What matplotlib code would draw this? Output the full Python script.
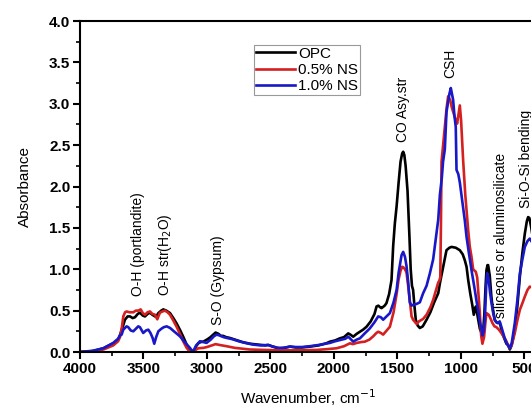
import matplotlib
matplotlib.use("Agg")
import matplotlib.pyplot as plt
from matplotlib.ticker import MultipleLocator

# ---------------- data ----------------
wn_opc = [4000, 3900, 3816, 3738, 3700, 3685, 3660, 3646, 3625, 3606, 3585, 3567, 3545, 3528, 3505, 3488,
          3468, 3449, 3430, 3409, 3395, 3383, 3360, 3344, 3320, 3291, 3265, 3239, 3210, 3187, 3160, 3139,
          3115, 3102, 3085, 3068, 3050, 3029, 3000, 2976, 2950, 2932, 2910, 2890, 2872, 2850, 2820, 2780,
          2720, 2661, 2600, 2540, 2517, 2490, 2450, 2425, 2390, 2346, 2300, 2250, 2189, 2120, 2060, 2031,
          1990, 1953, 1920, 1887, 1870, 1848, 1820, 1795, 1770, 1743, 1710, 1680, 1664, 1650, 1635, 1625,
          1600, 1586, 1565, 1546, 1533, 1520, 1506, 1490, 1475, 1462, 1454, 1445, 1435, 1420, 1405, 1395,
          1385, 1376, 1365, 1355, 1340, 1323, 1300, 1270, 1240, 1210, 1178, 1165, 1140, 1113, 1090, 1073,
          1040, 1008, 985, 969, 955, 942, 925, 910, 898, 890, 882, 875, 863, 850, 837, 827,
          815, 805, 798, 790, 785, 772, 760, 751, 733, 720, 707, 694, 680, 667, 641, 627,
          614, 600, 590, 575, 555, 535, 515, 496, 480, 470, 460, 445, 430, 415, 400]
ab_opc = [0.00, 0.01, 0.045, 0.105, 0.15, 0.205, 0.32, 0.39, 0.43, 0.43, 0.41, 0.42, 0.46, 0.475, 0.44, 0.43,
          0.46, 0.475, 0.45, 0.43, 0.44, 0.47, 0.50, 0.515, 0.50, 0.47, 0.41, 0.345, 0.26, 0.185, 0.09, 0.03,
          0.01, 0.015, 0.07, 0.105, 0.12, 0.125, 0.15, 0.175, 0.21, 0.235, 0.22, 0.195, 0.195, 0.18, 0.17, 0.15,
          0.12, 0.10, 0.09, 0.08, 0.085, 0.07, 0.05, 0.045, 0.05, 0.065, 0.055, 0.055, 0.065, 0.08, 0.105, 0.125,
          0.14, 0.165, 0.18, 0.225, 0.21, 0.185, 0.22, 0.245, 0.27, 0.305, 0.37, 0.46, 0.55, 0.56, 0.54, 0.53,
          0.56, 0.59, 0.70, 0.87, 1.28, 1.55, 1.76, 2.05, 2.30, 2.40, 2.42, 2.38, 2.25, 1.95, 1.40, 1.00,
          0.80, 0.75, 0.55, 0.39, 0.32, 0.29, 0.31, 0.39, 0.48, 0.60, 0.71, 0.83, 1.02, 1.23, 1.26, 1.27,
          1.26, 1.23, 1.18, 1.11, 1.03, 0.87, 0.70, 0.57, 0.45, 0.50, 0.55, 0.50, 0.39, 0.28, 0.23, 0.20,
          0.45, 0.80, 0.99, 1.05, 1.05, 0.92, 0.68, 0.55, 0.39, 0.36, 0.35, 0.36, 0.27, 0.20, 0.10, 0.085,
          0.03, 0.08, 0.15, 0.27, 0.55, 0.91, 1.20, 1.43, 1.58, 1.63, 1.62, 1.50, 1.35, 1.25, 1.20]

wn_ns05 = [4000, 3900, 3816, 3738, 3700, 3685, 3670, 3659, 3645, 3633, 3610, 3580, 3560, 3540, 3522, 3505,
           3488, 3468, 3449, 3430, 3409, 3400, 3391, 3380, 3370, 3350, 3331, 3310, 3291, 3265, 3239, 3210,
           3187, 3160, 3139, 3102, 3085, 3068, 3029, 3000, 2960, 2932, 2900, 2846, 2780, 2720, 2661, 2550,
           2400, 2300, 2136, 2050, 1979, 1920, 1874, 1850, 1820, 1785, 1756, 1720, 1690, 1665, 1651, 1630,
           1612, 1590, 1559, 1530, 1506, 1490, 1475, 1462, 1450, 1440, 1428, 1415, 1400, 1388, 1376, 1360,
           1349, 1330, 1297, 1270, 1240, 1218, 1195, 1178, 1170, 1162, 1157, 1152, 1140, 1126, 1112, 1100,
           1085, 1070, 1050, 1040, 1029, 1018, 1008, 998, 990, 982, 965, 942, 930, 916, 903, 890,
           882, 871, 860, 850, 840, 830, 817, 805, 798, 790, 780, 765, 751, 735, 720, 700,
           681, 660, 641, 625, 614, 600, 575, 555, 535, 515, 496, 475, 457, 440, 420, 400]
ab_ns05 = [0.00, 0.01, 0.03, 0.08, 0.13, 0.18, 0.30, 0.43, 0.48, 0.49, 0.48, 0.48, 0.50, 0.50, 0.515, 0.47,
           0.45, 0.48, 0.49, 0.46, 0.45, 0.42, 0.395, 0.44, 0.475, 0.49, 0.50, 0.48, 0.45, 0.38, 0.305, 0.21,
           0.13, 0.05, 0.01, 0.005, 0.03, 0.045, 0.05, 0.06, 0.08, 0.095, 0.085, 0.07, 0.05, 0.04, 0.03, 0.025,
           0.02, 0.02, 0.025, 0.035, 0.045, 0.07, 0.105, 0.095, 0.11, 0.12, 0.125, 0.15, 0.19, 0.23, 0.245, 0.23,
           0.21, 0.25, 0.305, 0.48, 0.70, 0.88, 0.98, 1.03, 1.02, 1.00, 0.96, 0.80, 0.60, 0.43, 0.39, 0.36,
           0.34, 0.37, 0.40, 0.45, 0.54, 0.63, 0.75, 0.84, 0.86, 0.90, 1.50, 2.30, 2.50, 2.72, 2.95, 3.09,
           3.05, 2.95, 2.85, 2.80, 2.76, 2.88, 2.98, 2.80, 2.55, 2.32, 1.90, 1.47, 1.28, 1.15, 1.00, 0.98,
           0.97, 0.90, 0.68, 0.47, 0.20, 0.10, 0.18, 0.38, 0.47, 0.46, 0.45, 0.40, 0.35, 0.31, 0.30, 0.27,
           0.23, 0.18, 0.13, 0.07, 0.045, 0.08, 0.23, 0.38, 0.51, 0.59, 0.67, 0.75, 0.79, 0.78, 0.74, 0.72]

wn_ns10 = [4000, 3900, 3816, 3738, 3700, 3685, 3672, 3659, 3646, 3633, 3620, 3600, 3580, 3560, 3541, 3528,
           3510, 3502, 3480, 3462, 3445, 3428, 3415, 3400, 3383, 3360, 3340, 3317, 3290, 3260, 3213, 3170,
           3134, 3110, 3085, 3055, 3030, 3003, 2970, 2945, 2924, 2900, 2870, 2845, 2800, 2750, 2700, 2638,
           2580, 2517, 2490, 2440, 2400, 2346, 2300, 2250, 2189, 2120, 2031, 1990, 1950, 1910, 1887, 1870,
           1848, 1820, 1795, 1760, 1717, 1680, 1651, 1630, 1612, 1585, 1559, 1530, 1506, 1490, 1467, 1454,
           1440, 1428, 1415, 1402, 1388, 1376, 1350, 1323, 1297, 1270, 1244, 1218, 1195, 1178, 1165, 1150,
           1140, 1126, 1113, 1100, 1090, 1079, 1070, 1061, 1050, 1040, 1034, 1020, 1008, 995, 982, 968,
           955, 935, 916, 903, 890, 877, 863, 850, 837, 830, 820, 811, 800, 793, 786, 780,
           770, 758, 745, 733, 720, 707, 694, 680, 667, 655, 641, 625, 614, 600, 590, 575,
           555, 535, 515, 496, 475, 457, 440, 420, 400]
ab_ns10 = [0.00, 0.015, 0.045, 0.11, 0.16, 0.20, 0.21, 0.27, 0.29, 0.31, 0.30, 0.26, 0.25, 0.28, 0.31, 0.30,
           0.25, 0.23, 0.26, 0.27, 0.23, 0.17, 0.10, 0.18, 0.25, 0.28, 0.30, 0.31, 0.29, 0.25, 0.19, 0.11,
           0.05, 0.00, 0.08, 0.13, 0.12, 0.11, 0.15, 0.19, 0.21, 0.20, 0.18, 0.17, 0.155, 0.13, 0.11, 0.09,
           0.08, 0.085, 0.07, 0.05, 0.05, 0.065, 0.06, 0.06, 0.07, 0.085, 0.11, 0.13, 0.145, 0.16, 0.185, 0.16,
           0.125, 0.15, 0.165, 0.22, 0.285, 0.36, 0.43, 0.42, 0.39, 0.43, 0.47, 0.60, 0.75, 0.96, 1.17, 1.21,
           1.15, 1.04, 0.85, 0.60, 0.56, 0.57, 0.58, 0.60, 0.71, 0.80, 0.95, 1.12, 1.40, 1.60, 1.90, 2.10,
           2.30, 2.45, 2.90, 3.02, 3.12, 3.19, 3.12, 3.05, 2.85, 2.72, 2.20, 2.15, 2.05, 1.90, 1.76, 1.58,
           1.39, 1.18, 0.99, 0.87, 0.75, 0.62, 0.50, 0.36, 0.27, 0.20, 0.25, 0.39, 0.80, 0.95, 0.92, 0.87,
           0.72, 0.59, 0.47, 0.39, 0.36, 0.35, 0.37, 0.30, 0.23, 0.17, 0.11, 0.07, 0.045, 0.10, 0.20, 0.35,
           0.62, 0.95, 1.12, 1.27, 1.34, 1.37, 1.33, 1.25, 1.20]

series_labels = ["OPC", "0.5% NS", "1.0% NS"]
series_colors = ["#000000", "#d42020", "#1818c8"]

band_labels = ["O-H (portlandite)", "O-H str(H$_2$O)", "S-O (Gypsum)", "CO Asy.str", "CSH",
               "siliceous or aluminosilicate", "Si-O-Si bending"]
band_x = [3541, 3331, 2911, 1454, 1087, 680, 490]
band_y = [0.68, 0.68, 0.33, 2.54, 3.31, 0.41, 1.74]

# ---------------- figure ----------------
plt.rcParams['font.family'] = ['Liberation Sans', 'DejaVu Sans']
fig = plt.figure(figsize=(5.31, 4.12), dpi=100)
ax = fig.add_axes([80 / 531, 60 / 412, 457 / 531, 331 / 412])

for wn, ab, lab, col in zip([wn_opc, wn_ns05, wn_ns10], [ab_opc, ab_ns05, ab_ns10],
                            series_labels, series_colors):
    ax.plot(wn, ab, color=col, lw=1.9, label=lab, solid_joinstyle='round')

ax.set_xlim(4000, 400)
ax.set_ylim(0, 4.0)
ax.xaxis.set_major_locator(MultipleLocator(500))
ax.xaxis.set_minor_locator(MultipleLocator(250))
ax.yaxis.set_major_locator(MultipleLocator(0.5))
ax.yaxis.set_minor_locator(MultipleLocator(0.25))
ax.yaxis.set_major_formatter(matplotlib.ticker.FormatStrFormatter('%.1f'))

for s in ax.spines.values():
    s.set_linewidth(1.5)
ax.tick_params(which='major', direction='out', length=5, width=1.5, labelsize=11, pad=2)
ax.tick_params(which='minor', direction='out', length=3, width=1.2)
ax.tick_params(top=False, right=False, which='both')
for t in ax.get_xticklabels() + ax.get_yticklabels():
    t.set_fontweight('bold')

ax.set_xlabel("Wavenumber, cm$^{-1}$", fontsize=11, labelpad=8)
ax.set_ylabel("Absorbance", fontsize=11, labelpad=12)

for txt, x, y in zip(band_labels, band_x, band_y):
    ax.text(x, y, txt, rotation=90, ha='center', va='bottom', fontsize=10)

leg = ax.legend(loc='upper left', bbox_to_anchor=(0.381, 0.927), fontsize=11, frameon=True,
                fancybox=False, edgecolor='#999999', framealpha=1, borderpad=0.1,
                handlelength=2.6, handletextpad=0.2, labelspacing=0.15, borderaxespad=0)
leg.get_frame().set_linewidth(0.8)

fig.savefig("out.png", dpi=100)
